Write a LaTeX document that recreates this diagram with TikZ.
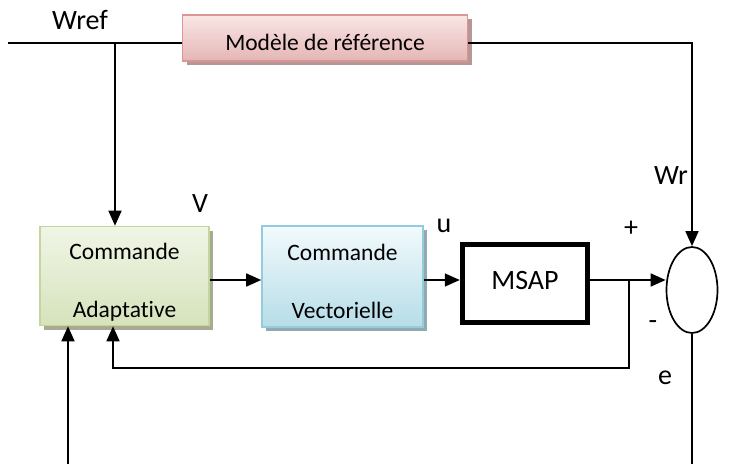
\documentclass[tikz,border=0pt]{standalone}
\usepackage{fontspec}
\setmainfont[Ligatures={NoCommon}]{Carlito}
\usetikzlibrary{arrows.meta,shapes.geometric,shadows}
\definecolor{refbord}{HTML}{D99694}
\definecolor{reftop}{HTML}{FAE6E6}
\definecolor{refbot}{HTML}{E4B6B5}
\definecolor{refshad}{HTML}{B89696}
\definecolor{adbord}{HTML}{C3D69B}
\definecolor{adtop}{HTML}{F0F5E6}
\definecolor{adbot}{HTML}{D6E3BC}
\definecolor{adshad}{HTML}{A8AA92}
\definecolor{vcbord}{HTML}{93CDDD}
\definecolor{vctop}{HTML}{F2FAFC}
\definecolor{vcbot}{HTML}{B6DDE8}
\definecolor{vcshad}{HTML}{93A9B0}
\newcommand{\bas}[2]{\raisebox{#1}[\height][\depth]{#2}}
\newcommand{\deuxl}[2]{\bas{-7pt}{\begin{tabular}{@{}c@{}}#1\\[30pt]#2\end{tabular}}}

\begin{document}
\begin{tikzpicture}[x=1pt,y=-1pt,
  bloc/.style={draw,line width=1.6pt,inner sep=0pt,align=center,
    font=\fontsize{23.5}{28}\selectfont},
  refbox/.style={bloc,draw=refbord,top color=reftop,bottom color=refbot,
    drop shadow={shadow xshift=4pt,shadow yshift=-4pt,fill=refshad,opacity=1}},
  adbox/.style={bloc,draw=adbord,top color=adtop,bottom color=adbot,
    drop shadow={shadow xshift=4pt,shadow yshift=-4pt,fill=adshad,opacity=1}},
  vcbox/.style={bloc,draw=vcbord,top color=vctop,bottom color=vcbot,
    drop shadow={shadow xshift=4pt,shadow yshift=-4pt,fill=vcshad,opacity=1}},
  lab/.style={font=\fontsize{28}{32}\selectfont},
  ln/.style={line width=1.7pt},
  fl/.style={line width=1.7pt,-{Triangle[length=15pt,width=13pt]}}]
\path[use as bounding box] (0,0) rectangle (729,464);

\node (wref) at (80,20) [lab] {Wref};
\node (ref) at (325,38) [refbox,minimum width=285,minimum height=46] {\bas{-4pt}{Modèle de référence}};
\node (adapt) at (124.5,276) [adbox,minimum width=169,minimum height=99] {\deuxl{Commande}{Adaptative}};
\node (vect) at (342.5,276.5) [vcbox,minimum width=161,minimum height=101] {\deuxl{Commande}{Vectorielle}};
\node (msap) at (525,283.5) [draw,line width=5.5pt,minimum width=125,minimum height=78,
  font=\fontsize{28}{32}\selectfont] {\bas{3pt}{MSAP}};
\node (sum) at (692,290) [ellipse,draw,line width=1.7pt,minimum width=51,minimum height=86,inner sep=0pt] {};

\node (v) at (200,204) [lab] {V};
\node (u) at (444,226) [lab] {u};
\node (wr) at (671,176) [lab] {Wr};
\node (plus) at (631,229) [lab] {+};
\node (moins) at (653,325) [lab] {-};
\node (e) at (665,378) [lab] {e};

\coordinate (win) at (8,43);
\coordinate (wbr) at (115,43);
\coordinate (mid) at (0,280);
\coordinate (br) at (629,280);
\coordinate (fb) at (113,368);
\coordinate (bin) at (68,464);
\coordinate (bout) at (692,464);

\draw[ln] (win) -- (win -| ref.west);
\draw[fl] (wbr) -- (wbr |- adapt.north);
\draw[fl] (win -| ref.east) -| (sum.north);
\draw[fl] (adapt.east |- mid) -- (vect.west |- mid);
\draw[fl] (vect.east |- mid) -- (msap.west |- mid);
\draw[fl] (msap.east |- mid) -- (mid -| sum.west);
\draw[fl] (br) |- (fb) -- (fb |- adapt.south);
\draw[fl] (bin) -- (bin |- adapt.south);
\draw[ln] (sum.south) -- (bout);

\end{tikzpicture}
\end{document}
